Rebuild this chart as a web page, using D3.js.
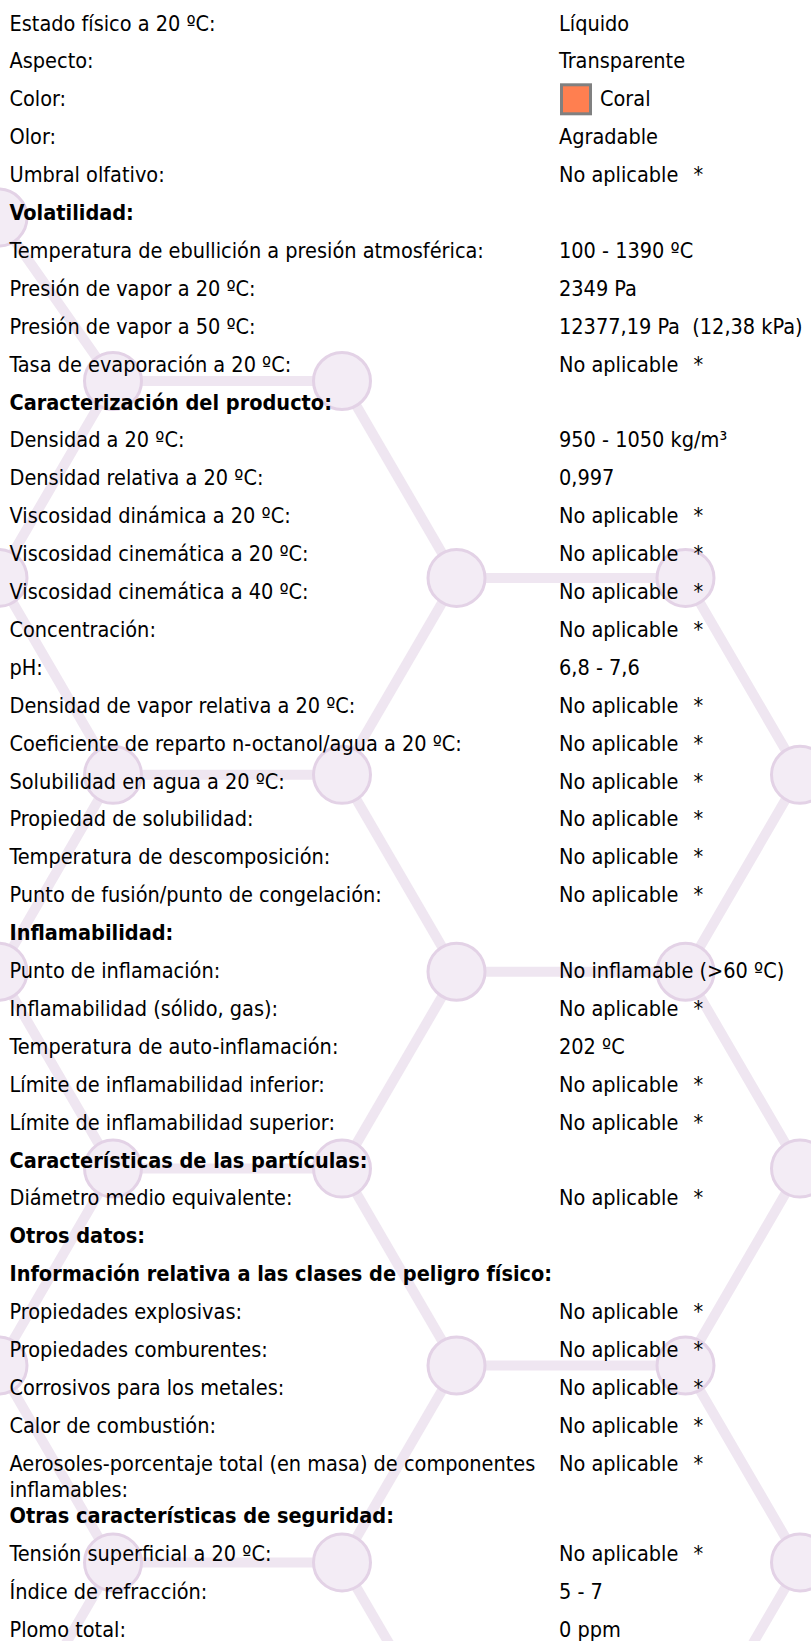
<!DOCTYPE html>
<html><head><meta charset="utf-8">
<script src="https://cdn.jsdelivr.net/npm/d3@7"></script>
<style>
html,body{margin:0;padding:0;background:#fff;}
svg{display:block;}
text{font-family:'DejaVu Sans Condensed','DejaVu Sans',sans-serif;font-stretch:condensed;font-size:21.5px;fill:#000;white-space:pre;}
text.h{font-weight:bold;}
</style></head><body>
<svg id="c" width="811" height="1641"></svg>
<script>
// ---------- data ----------
const rowLabels = [
  "Estado físico a 20 ºC:",
  "Aspecto:",
  "Color:",
  "Olor:",
  "Umbral olfativo:",
  "Volatilidad:",
  "Temperatura de ebullición a presión atmosférica:",
  "Presión de vapor a 20 ºC:",
  "Presión de vapor a 50 ºC:",
  "Tasa de evaporación a 20 ºC:",
  "Caracterización del producto:",
  "Densidad a 20 ºC:",
  "Densidad relativa a 20 ºC:",
  "Viscosidad dinámica a 20 ºC:",
  "Viscosidad cinemática a 20 ºC:",
  "Viscosidad cinemática a 40 ºC:",
  "Concentración:",
  "pH:",
  "Densidad de vapor relativa a 20 ºC:",
  "Coeficiente de reparto n-octanol/agua a 20 ºC:",
  "Solubilidad en agua a 20 ºC:",
  "Propiedad de solubilidad:",
  "Temperatura de descomposición:",
  "Punto de fusión/punto de congelación:",
  "Inflamabilidad:",
  "Punto de inflamación:",
  "Inflamabilidad (sólido, gas):",
  "Temperatura de auto-inflamación:",
  "Límite de inflamabilidad inferior:",
  "Límite de inflamabilidad superior:",
  "Características de las partículas:",
  "Diámetro medio equivalente:",
  "Otros datos:",
  "Información relativa a las clases de peligro físico:",
  "Propiedades explosivas:",
  "Propiedades comburentes:",
  "Corrosivos para los metales:",
  "Calor de combustión:",
  "Aerosoles-porcentaje total (en masa) de componentes\ninflamables:",
  "Otras características de seguridad:",
  "Tensión superficial a 20 ºC:",
  "Índice de refracción:",
  "Plomo total:"
];
const rowValues = [
  "Líquido",
  "Transparente",
  "Coral",
  "Agradable",
  "No aplicable *",
  "",
  "100 - 1390 ºC",
  "2349 Pa",
  "12377,19 Pa  (12,38 kPa)",
  "No aplicable *",
  "",
  "950 - 1050 kg/m³",
  "0,997",
  "No aplicable *",
  "No aplicable *",
  "No aplicable *",
  "No aplicable *",
  "6,8 - 7,6",
  "No aplicable *",
  "No aplicable *",
  "No aplicable *",
  "No aplicable *",
  "No aplicable *",
  "No aplicable *",
  "",
  "No inflamable (>60 ºC)",
  "No aplicable *",
  "202 ºC",
  "No aplicable *",
  "No aplicable *",
  "",
  "No aplicable *",
  "",
  "",
  "No aplicable *",
  "No aplicable *",
  "No aplicable *",
  "No aplicable *",
  "No aplicable *",
  "",
  "No aplicable *",
  "5 - 7",
  "0 ppm"
];
const headerRows = [5, 10, 24, 30, 32, 33, 39];
const swatchRows = [2];
const swatchFills = ["#ff7f50"];

// honeycomb background (lattice columns in edge-length units, levels in row units)
const evenCols = [0, 1, 3];
const oddCols = [-0.5, 1.5, 2.5];
const evenHoriz = [[0, 1], [3, 4]];
const oddHoriz = [[-1.5, -0.5], [1.5, 2.5]];
const diagPairs = [[0, -0.5], [1, 1.5], [3, 2.5]];
const levels = d3.range(0, 8);
const missingNodes = [[3, 0]];
const topNode = [-0.5, -0.83];

// ---------- layout ----------
const W = 811, H = 1641;
const labelX = 9.5, valueX = 559;
const lineStep = 26.3, extraPerLine = 14.5;
const svg = d3.select("#c");
svg.append("rect").attr("width", W).attr("height", H).attr("fill", "#fff");

const yRow = d3.scaleLinear().domain([0, 1]).range([23, 60.9]);
const xL = d3.scaleLinear().domain([0, 1]).range([113, 342]);
const yL = d3.scaleLinear().domain([0, 1]).range([381, 577.9]);

// ---------- background pattern ----------
const isMissing = p => missingNodes.some(m => m[0] === p[0] && m[1] === p[1]);
const bg = svg.append("g");
let edges = [];
levels.forEach(k => {
  const even = k % 2 === 0;
  (even ? evenHoriz : oddHoriz).forEach(p => edges.push([[p[0], k], [p[1], k]]));
  if (k < levels.length - 1) {
    diagPairs.forEach(p => {
      const a = even ? p[0] : p[1], b = even ? p[1] : p[0];
      edges.push([[a, k], [b, k + 1]]);
    });
  }
});
edges = edges.filter(e => !isMissing(e[0]) && !isMissing(e[1]));
edges.push([topNode, [0, 0]]);

bg.selectAll("line").data(edges).join("line")
  .attr("x1", d => xL(d[0][0])).attr("y1", d => yL(d[0][1]))
  .attr("x2", d => xL(d[1][0])).attr("y2", d => yL(d[1][1]))
  .attr("stroke", "#efe6f1").attr("stroke-width", 10);

let nodes = [topNode];
levels.forEach(k => (k % 2 === 0 ? evenCols : oddCols).forEach(u => nodes.push([u, k])));
nodes = nodes.filter(n => !isMissing(n));
bg.selectAll("circle").data(nodes).join("circle")
  .attr("cx", d => xL(d[0])).attr("cy", d => yL(d[1])).attr("r", 28.5)
  .attr("fill", "#f3ecf5").attr("stroke", "#e3d2e6").attr("stroke-width", 3);

// ---------- rows ----------
let extra = 0;
const rows = rowLabels.map((lab, i) => {
  const lines = lab.split("\n");
  const y = yRow(i) + extra;
  extra += (lines.length - 1) * extraPerLine;
  return {i, lines, y, value: rowValues[i], header: headerRows.includes(i)};
});

const g = svg.append("g");
rows.forEach(r => {
  const t = g.append("text").attr("class", r.header ? "h" : null)
    .attr("x", labelX).attr("y", r.y);
  r.lines.forEach((ln, j) => {
    t.append("tspan").attr("x", labelX).attr("dy", j === 0 ? "0.35em" : lineStep).text(ln);
  });
  if (!r.value) return;
  const si = swatchRows.indexOf(r.i);
  let vx = valueX;
  if (si >= 0) {
    g.append("rect").attr("x", valueX + 2.5).attr("y", r.y - 14).attr("width", 29).attr("height", 29)
      .attr("fill", swatchFills[si]).attr("stroke", "#808080").attr("stroke-width", 3);
    vx = valueX + 41;
  }
  let main = r.value, star = false;
  if (main.endsWith(" *")) { main = main.slice(0, -2); star = true; }
  const vt = g.append("text").attr("x", vx).attr("y", r.y).attr("dy", "0.35em").text(main);
  if (star) {
    const w = vt.node().getComputedTextLength();
    g.append("text").attr("x", vx + w + 15).attr("y", r.y).attr("dy", "0.35em").text("*");
  }
});
</script>
</body></html>
